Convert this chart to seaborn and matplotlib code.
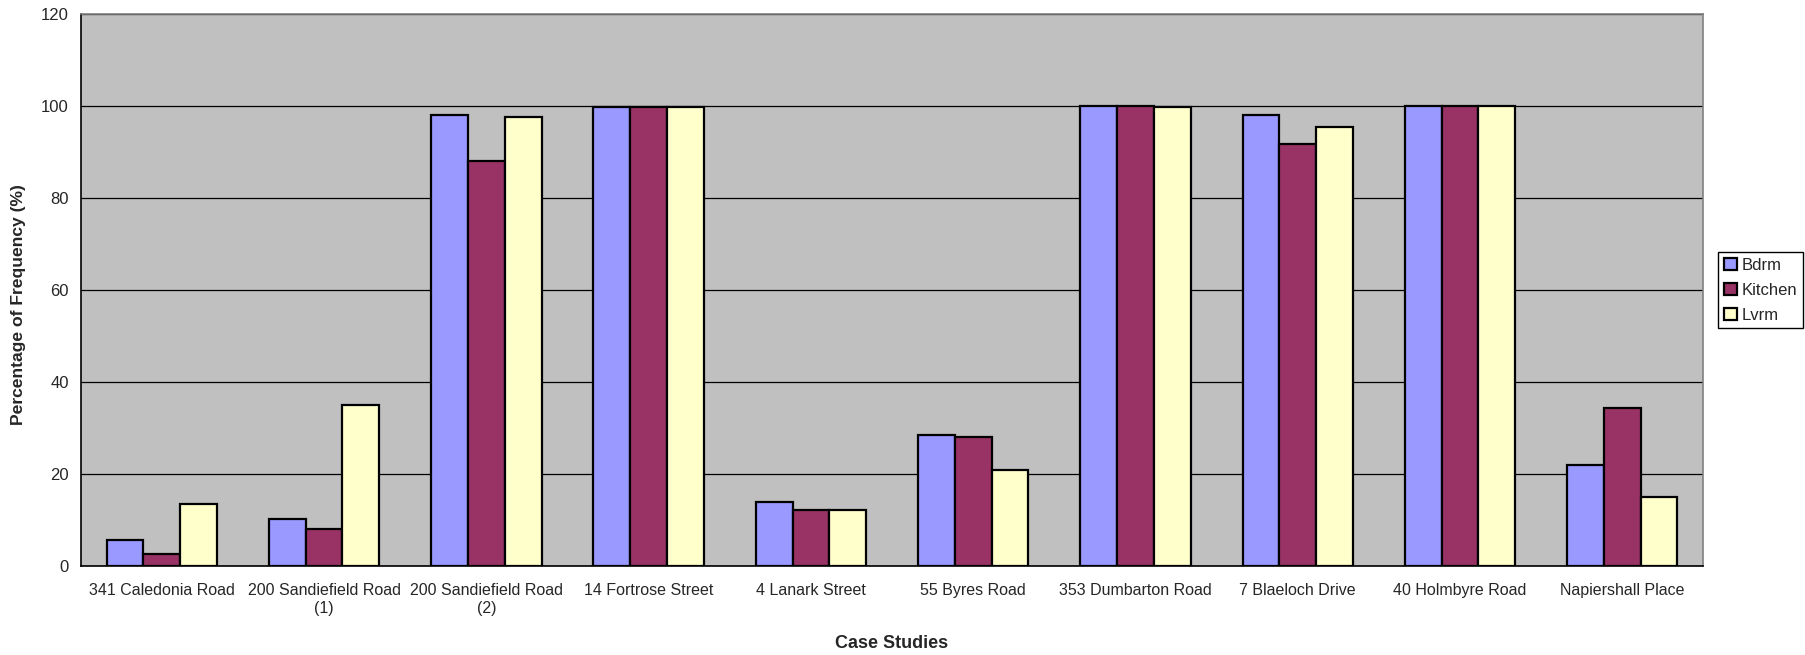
import pandas as pd
import seaborn as sns
import matplotlib.pyplot as plt
import numpy as np

# values
sites = ["341 Caledonia Road", "200 Sandiefield Road\n(1)", "200 Sandiefield Road\n(2)",
         "14 Fortrose Street", "4 Lanark Street", "55 Byres Road", "353 Dumbarton Road",
         "7 Blaeloch Drive", "40 Holmbyre Road", "Napiershall Place"]
rooms = ["Bdrm", "Kitchen", "Lvrm"]
bdrm = [5.6, 10.3, 98.0, 99.7, 13.8, 28.4, 100.0, 98.0, 100.0, 22.0]
kitchen = [2.5, 8.1, 87.9, 99.7, 12.1, 28.0, 100.0, 91.8, 100.0, 34.4]
lvrm = [13.4, 34.9, 97.6, 99.7, 12.1, 20.9, 99.7, 95.4, 100.0, 15.0]
room_colors = ["#9999FF", "#993366", "#FFFFCC"]

df = pd.DataFrame({
    "site": sites * 3,
    "room": [r for r in rooms for _ in sites],
    "pct": bdrm + kitchen + lvrm,
})

sns.set_style("white")
plt.rcParams["font.family"] = ["Liberation Sans", "DejaVu Sans"]

fig = plt.figure(figsize=(18.05, 6.55), dpi=100)
ax = fig.add_axes([0.0447, 0.136, 0.899, 0.843])
ax.set_facecolor("#C0C0C0")

sns.barplot(data=df, x="site", y="pct", hue="room", hue_order=rooms,
            palette=room_colors, saturation=1, width=0.68,
            edgecolor="black", linewidth=1.6, ax=ax)

# axes and grid
ax.set_xlim(-0.5, len(sites) - 0.5)
ax.set_ylim(0, 120)
ax.set_yticks(np.arange(0, 121, 20))
ax.set_axisbelow(True)
ax.yaxis.grid(True, color="black", linewidth=0.9)
for side in ["top", "right"]:
    ax.spines[side].set_color("#808080")
    ax.spines[side].set_linewidth(1.2)
for side in ["left", "bottom"]:
    ax.spines[side].set_color("black")
    ax.spines[side].set_linewidth(1.2)

ax.tick_params(axis="x", which="major", length=0, labelsize=11.5, pad=12)
for lbl in ax.get_xticklabels():
    lbl.set_linespacing(1.3)
ax.set_xticks(np.arange(-0.5, len(sites), 1), minor=True)
ax.tick_params(axis="x", which="minor", length=5, width=1, direction="out", color="black")
ax.tick_params(axis="y", length=5, width=1, direction="out", labelsize=12, color="black")

ax.set_xlabel("Case Studies", fontsize=13, fontweight="bold")
ax.set_ylabel("Percentage of Frequency (%)", fontsize=12.6, fontweight="bold")
ax.xaxis.set_label_coords(0.5, -0.126)
ax.yaxis.set_label_coords(-0.0335, 0.474)

# legend to the right of the plot
ax.get_legend().remove()
handles, labels = ax.get_legend_handles_labels()
leg = fig.legend(handles, labels, loc="center left", bbox_to_anchor=(0.952, 0.557),
                 bbox_transform=fig.transFigure, fontsize=12, frameon=True,
                 fancybox=False, edgecolor="black", framealpha=1,
                 handlelength=0.75, handleheight=0.75, handletextpad=0.3,
                 borderpad=0.35, labelspacing=0.6, borderaxespad=0)
leg.get_frame().set_linewidth(1.0)

fig.savefig("out.png", dpi=100, facecolor="white")
